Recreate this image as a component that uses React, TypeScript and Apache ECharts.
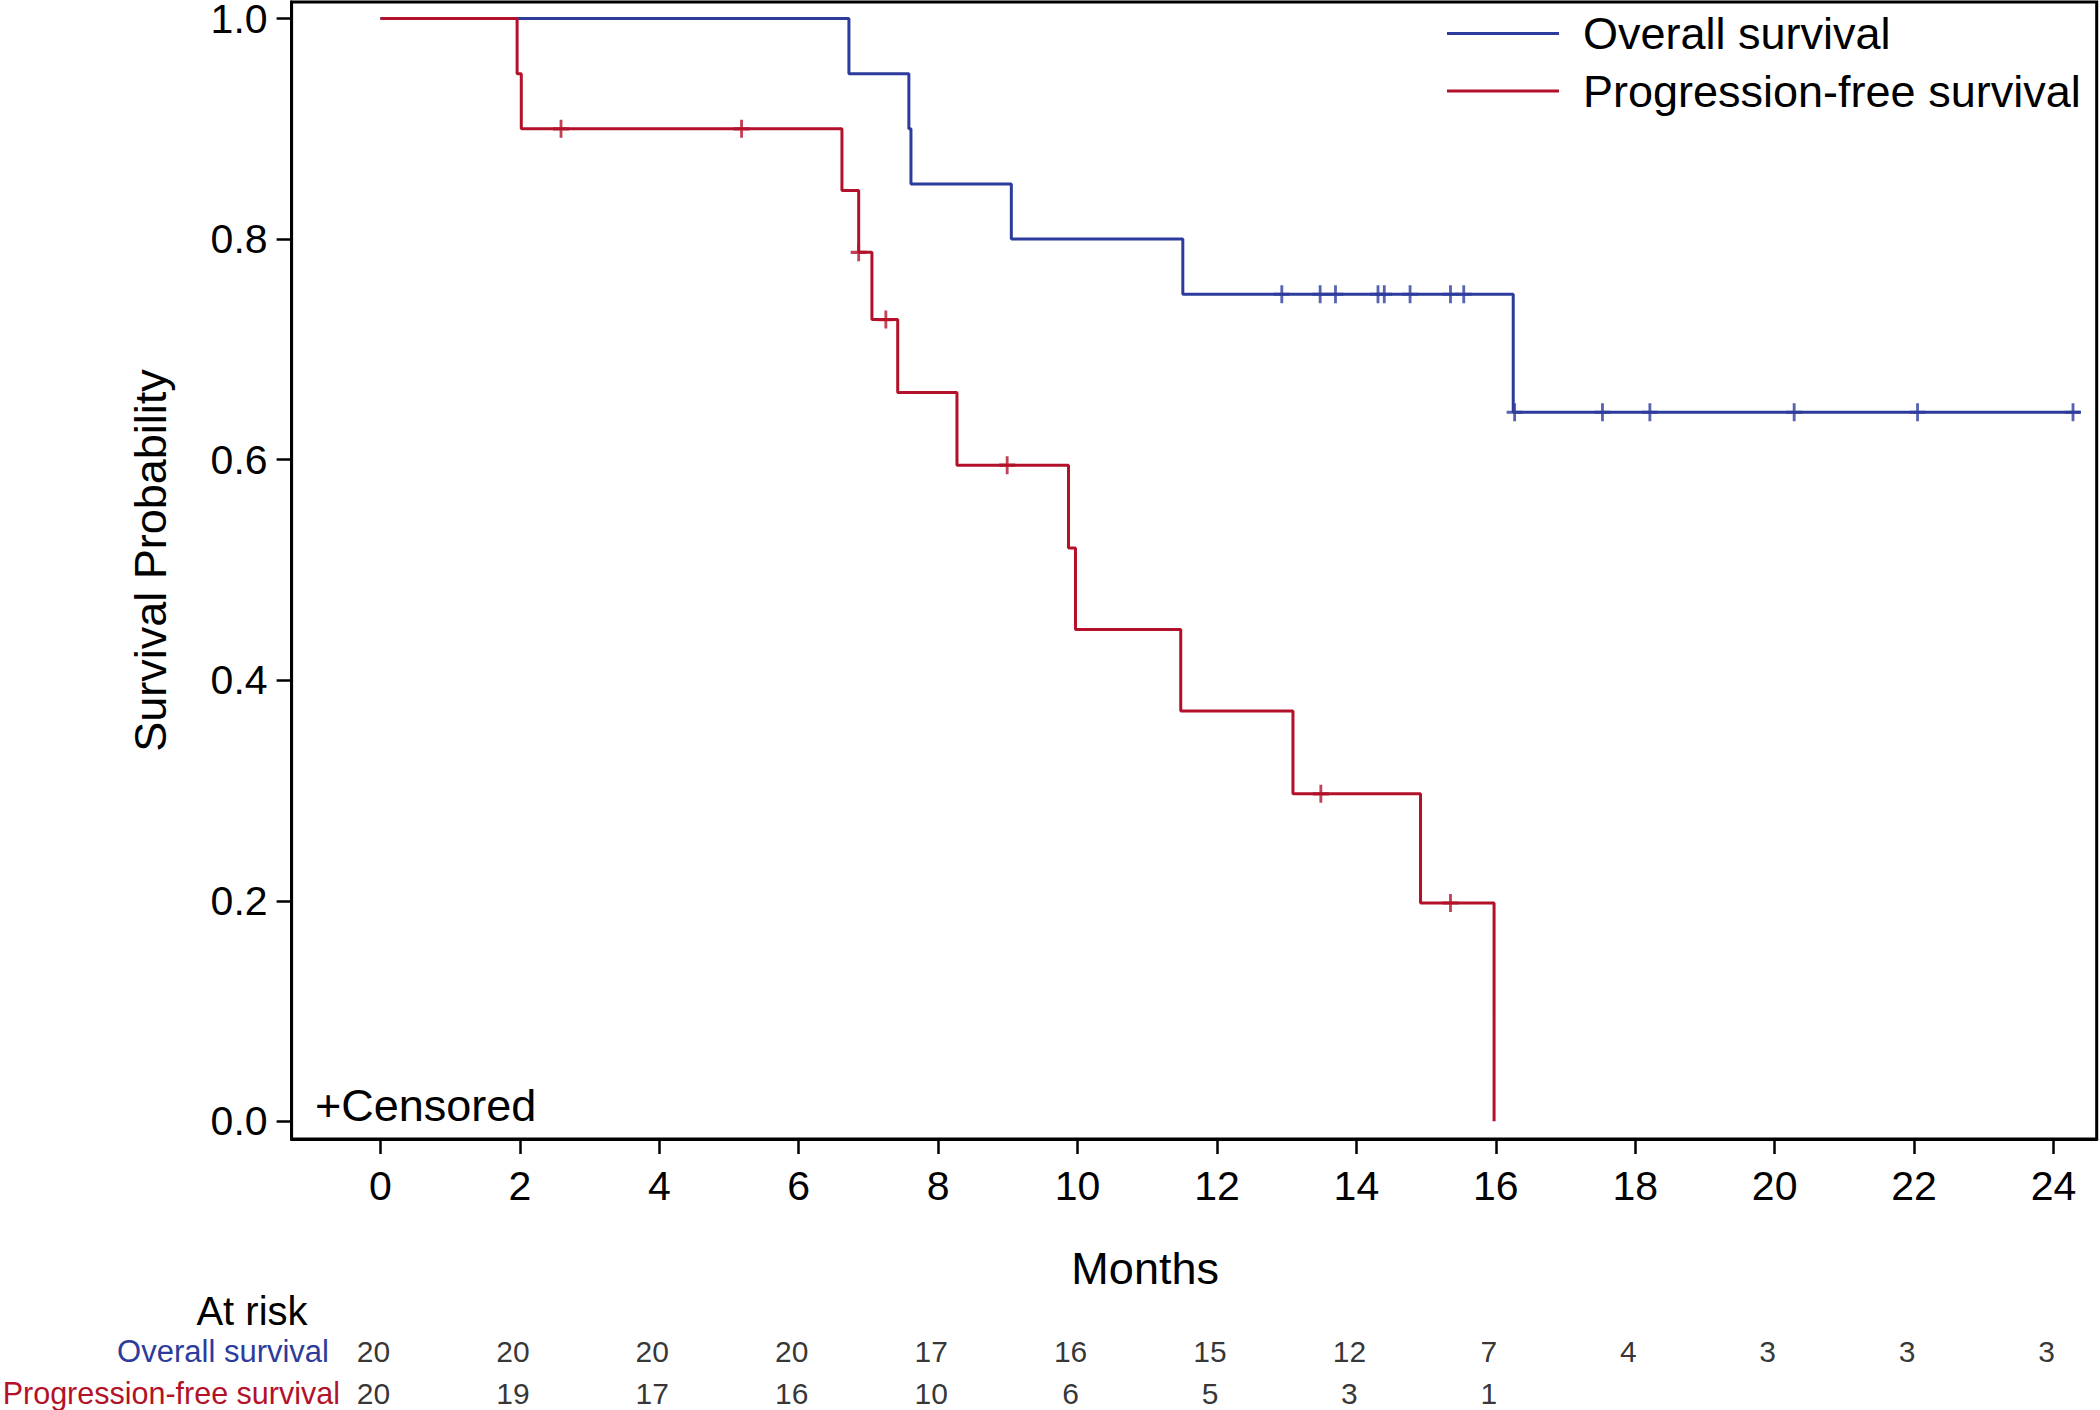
import React, { useEffect, useRef } from "react";
import * as echarts from "echarts";

// ---- data ----
const osTimes = [0, 6.72, 7.58, 7.61, 9.05, 11.51, 16.25, 24.39];
const osSurv = [1.0, 0.95, 0.9, 0.85, 0.8, 0.75, 0.643, 0.643];
const pfsTimes = [0, 1.96, 2.02, 6.62, 6.86, 7.05, 7.42, 8.27, 9.87, 9.97, 11.48, 13.09, 14.92, 15.975];
const pfsSurv = [1.0, 0.95, 0.9, 0.844, 0.788, 0.727, 0.661, 0.595, 0.52, 0.446, 0.372, 0.297, 0.198, 0.0];
const osCensorTimes = [12.93, 13.48, 13.7, 14.31, 14.4, 14.77, 15.35, 15.54, 16.27, 17.53, 18.21, 20.28, 22.05, 24.28];
const pfsCensorTimes = [2.59, 5.18, 6.86, 7.25, 8.99, 13.49, 15.35];
const monthTicks = [0, 2, 4, 6, 8, 10, 12, 14, 16, 18, 20, 22, 24];
const probTicks = [0, 0.2, 0.4, 0.6, 0.8, 1.0];
const atRiskMonths = [0, 2, 4, 6, 8, 10, 12, 14, 16, 18, 20, 22, 24];
const osAtRisk = [20, 20, 20, 20, 17, 16, 15, 12, 7, 4, 3, 3, 3];
const pfsAtRisk = [20, 19, 17, 16, 10, 6, 5, 3, 1];
const seriesNames = ["Overall survival", "Progression-free survival"];

const BLUE = "#2d3c9c";
const RED = "#b3112a";
const FONT = '"Liberation Sans", Arial, Helvetica, sans-serif';

function levelAt(times: number[], surv: number[], t: number) {
  let v = surv[0];
  for (let i = 0; i < times.length; i++) if (times[i] <= t) v = surv[i];
  return v;
}

const CENSOR_SYMBOL = "path://M5,0L5,10M0,5L10,5";

export default function App() {
  const ref = useRef<HTMLDivElement>(null);
  useEffect(() => {
    if (!ref.current) return;
    const chart = echarts.init(ref.current, null, { renderer: "svg" });
    const gridLeft = 291.6;
    const gridRight = 3.3;
    const xMin = -1.275;
    const xMax = 24.62;
    const pxPerMonth = (2100 - gridRight - gridLeft) / (xMax - xMin);
    const grid2Left = 343;
    const tableShift = 7; // at-risk numbers sit a few px left of the ticks
    const x2Min = xMin + (grid2Left - gridLeft + tableShift) / pxPerMonth;
    const x2Max = xMax + tableShift / pxPerMonth;

    const option: any = {
      animation: false,
      backgroundColor: "#fff",
      textStyle: { fontFamily: FONT },
      grid: [
        {
          left: gridLeft,
          right: gridRight,
          top: 2,
          bottom: 271,
          show: true,
          borderColor: "#000",
          borderWidth: 3,
          containLabel: false,
          outerBoundsMode: "none",
        },
        { left: grid2Left, right: gridRight, top: 1330, height: 84, containLabel: false, outerBoundsMode: "none" },
      ],
      legend: {
        data: seriesNames.map((n) => ({ name: n, icon: "rect" })),
        orient: "vertical",
        left: 1447,
        top: 8.5,
        padding: 0,
        itemWidth: 112,
        itemHeight: 3,
        itemGap: 7.5,
        textStyle: { fontSize: 45, color: "#000", fontFamily: FONT, lineHeight: 50, padding: [0, 0, 0, 19] },
      },
      xAxis: [
        {
          type: "value",
          min: xMin,
          max: xMax,
          name: "Months",
          nameLocation: "middle",
          nameGap: 107,
          nameTextStyle: { fontSize: 45, color: "#000", fontFamily: FONT, padding: [0, 98, 0, 0] },
          axisLine: { show: true, onZero: false, lineStyle: { color: "#000", width: 3 } },
          axisTick: { show: true, length: 15, lineStyle: { color: "#000", width: 2.5 }, customValues: monthTicks },
          axisLabel: { fontSize: 41, color: "#000", margin: 26, fontFamily: FONT, customValues: monthTicks },
          splitLine: { show: false },
        },
        {
          type: "value",
          gridIndex: 1,
          min: x2Min,
          max: x2Max,
          show: false,
        },
      ],
      yAxis: [
        {
          type: "value",
          min: -0.016,
          max: 1.015,
          name: "Survival Probability",
          nameLocation: "middle",
          nameGap: 119,
          nameTextStyle: { fontSize: 45, color: "#000", fontFamily: FONT, padding: [0, 0, 0, 20] },
          axisLine: { show: true, onZero: false, lineStyle: { color: "#000", width: 3 } },
          axisTick: { show: true, length: 15, lineStyle: { color: "#000", width: 2.5 }, customValues: probTicks },
          axisLabel: {
            fontSize: 41,
            color: "#000",
            margin: 24,
            fontFamily: FONT,
            customValues: probTicks,
            formatter: (v: number) => v.toFixed(1),
          },
          splitLine: { show: false },
        },
        {
          type: "category",
          gridIndex: 1,
          data: seriesNames,
          inverse: true,
          axisLine: { show: false },
          axisTick: { show: false },
          axisLabel: {
            margin: 1,
            formatter: (v: string) => (v === seriesNames[0] ? `{os|${v}}` : `{pfs|${v}}`),
            rich: {
              os: { color: BLUE, fontSize: 31, fontFamily: FONT, padding: [0, 13, 0, 0] },
              pfs: { color: RED, fontSize: 30.5, fontFamily: FONT, padding: [0, 2, 0, 0] },
            },
          },
        },
      ],
      series: [
        {
          name: seriesNames[0],
          type: "line",
          step: "end",
          symbol: "none",
          color: BLUE,
          lineStyle: { color: BLUE, width: 3 },
          data: osTimes.map((t, i) => [t, osSurv[i]]),
          z: 3,
        },
        {
          name: seriesNames[1],
          type: "line",
          step: "end",
          symbol: "none",
          color: RED,
          lineStyle: { color: RED, width: 3 },
          data: pfsTimes.map((t, i) => [t, pfsSurv[i]]),
          z: 4,
        },
        {
          name: "os-censored",
          type: "scatter",
          symbol: CENSOR_SYMBOL,
          symbolSize: [16, 18],
          itemStyle: { color: BLUE, borderColor: BLUE, borderWidth: 3 },
          data: osCensorTimes.map((t) => [t, levelAt(osTimes, osSurv, t)]),
          z: 5,
        },
        {
          name: "pfs-censored",
          type: "scatter",
          symbol: CENSOR_SYMBOL,
          symbolSize: [16, 18],
          itemStyle: { color: RED, borderColor: RED, borderWidth: 3 },
          data: pfsCensorTimes.map((t) => [t, levelAt(pfsTimes, pfsSurv, t)]),
          z: 6,
        },
        {
          name: "at-risk",
          type: "scatter",
          xAxisIndex: 1,
          yAxisIndex: 1,
          symbolSize: 1,
          itemStyle: { color: "rgba(0,0,0,0)" },
          label: {
            show: true,
            position: "inside",
            formatter: (p: any) => String(p.value[2]),
            color: "#000",
            fontSize: 30,
            fontFamily: FONT,
          },
          data: [
            ...osAtRisk.map((n, i) => [atRiskMonths[i], seriesNames[0], n]),
            ...pfsAtRisk.map((n, i) => [atRiskMonths[i], seriesNames[1], n]),
          ],
        },
      ],
      graphic: [
        {
          type: "text",
          x: 315,
          y: 1105,
          style: { text: "+Censored", fontSize: 45, fill: "#000", fontFamily: FONT, align: "left", verticalAlign: "middle" },
        },
        {
          type: "text",
          x: 252,
          y: 1311,
          style: { text: "At risk", fontSize: 40, fill: "#000", fontFamily: FONT, align: "center", verticalAlign: "middle" },
        },
      ],
    };
    chart.setOption(option);
    return () => chart.dispose();
  }, []);
  return (
    <div
      ref={ref}
      style={{ position: "absolute", left: 0, top: 0, width: 2100, height: 1410, background: "#fff" }}
    />
  );
}
